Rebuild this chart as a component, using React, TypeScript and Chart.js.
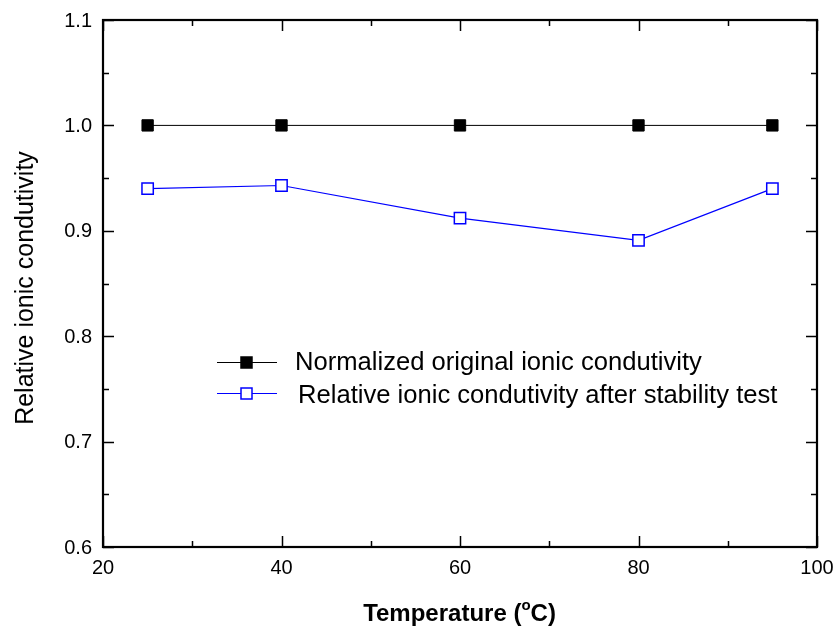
import React, { useEffect, useRef } from "react";
import { Chart, registerables } from "chart.js";

Chart.register(...registerables);

const temperatures = [25, 40, 60, 80, 95];
const originalValues = [1.0, 1.0, 1.0, 1.0, 1.0];
const afterTestValues = [0.940, 0.943, 0.912, 0.891, 0.940];
const xTicks = [20, 40, 60, 80, 100];
const xMinorTicks = [30, 50, 70, 90];
const yTicks = [0.6, 0.7, 0.8, 0.9, 1.0, 1.1];
const yMinorTicks = [0.65, 0.75, 0.85, 0.95, 1.05];
const seriesLabels = [
  "Normalized original ionic condutivity",
  "Relative ionic condutivity after stability test",
];

const FONT = "'Liberation Sans', Arial, sans-serif";

const framePlugin = {
  id: "framePlugin",
  afterDatasetsDraw(chart: any) {
    const { ctx, chartArea } = chart;
    const xs = chart.scales.x;
    const ys = chart.scales.y;
    const { left, right, top, bottom } = chartArea;
    ctx.save();
    ctx.strokeStyle = "#000";
    ctx.lineWidth = 2.2;
    ctx.strokeRect(left, top, right - left, bottom - top);
    ctx.lineWidth = 1.5;
    const major = 11;
    const minor = 6;
    ctx.beginPath();
    const xTick = (v: number, len: number) => {
      const px = Math.round(xs.getPixelForValue(v)) + 0.5;
      ctx.moveTo(px, bottom);
      ctx.lineTo(px, bottom - len);
      ctx.moveTo(px, top);
      ctx.lineTo(px, top + len);
    };
    const yTick = (v: number, len: number) => {
      const py = Math.round(ys.getPixelForValue(v)) + 0.5;
      ctx.moveTo(left, py);
      ctx.lineTo(left + len, py);
      ctx.moveTo(right, py);
      ctx.lineTo(right - len, py);
    };
    xTicks.forEach((v) => xTick(v, major));
    xMinorTicks.forEach((v) => xTick(v, minor));
    yTicks.forEach((v) => yTick(v, major));
    yMinorTicks.forEach((v) => yTick(v, minor));
    ctx.stroke();

    // tick labels
    ctx.fillStyle = "#000";
    ctx.font = `20px ${FONT}`;
    ctx.textAlign = "center";
    ctx.textBaseline = "middle";
    xTicks.forEach((v) => {
      ctx.fillText(String(v), xs.getPixelForValue(v), bottom + 21);
    });
    ctx.textAlign = "right";
    ctx.textBaseline = "middle";
    yTicks.forEach((v) => {
      ctx.fillText(v.toFixed(1), left - 11, ys.getPixelForValue(v) + 1);
    });

    // y axis title
    ctx.save();
    ctx.translate(33, 288);
    ctx.rotate(-Math.PI / 2);
    ctx.textAlign = "center";
    ctx.textBaseline = "alphabetic";
    ctx.font = `25px ${FONT}`;
    ctx.fillText("Relative ionic condutivity", 0, 0);
    ctx.restore();

    // x axis title with superscript
    ctx.textAlign = "left";
    ctx.textBaseline = "alphabetic";
    const p1 = "Temperature (";
    const p2 = "o";
    const p3 = "C)";
    ctx.font = `bold 24px ${FONT}`;
    const w1 = ctx.measureText(p1).width;
    const w3 = ctx.measureText(p3).width;
    ctx.font = `bold 15px ${FONT}`;
    const w2 = ctx.measureText(p2).width;
    const total = w1 + w2 + w3;
    const cx = 459.5;
    const x0 = cx - total / 2;
    const base = 621;
    ctx.font = `bold 24px ${FONT}`;
    ctx.fillText(p1, x0, base);
    ctx.font = `bold 15px ${FONT}`;
    ctx.fillText(p2, x0 + w1, base - 11);
    ctx.font = `bold 24px ${FONT}`;
    ctx.fillText(p3, x0 + w1 + w2, base);

    // legend
    const legendItems = [
      { y: 362, textY: 363, textX: 295, stroke: "#000", fill: "#000" },
      { y: 393, textY: 396, textX: 298, stroke: "#0000ff", fill: "#fff" },
    ];
    legendItems.forEach((it, i) => {
      ctx.strokeStyle = it.stroke;
      ctx.lineWidth = 1;
      ctx.beginPath();
      ctx.moveTo(217, it.y + 0.5);
      ctx.lineTo(277, it.y + 0.5);
      ctx.stroke();
      ctx.fillStyle = it.fill;
      ctx.fillRect(241, it.y - 5, 11, 11);
      ctx.lineWidth = 1.5;
      ctx.strokeRect(241, it.y - 5, 11, 11);
      ctx.fillStyle = "#000";
      ctx.font = `25.6px ${FONT}`;
      ctx.textAlign = "left";
      ctx.textBaseline = "middle";
      ctx.fillText(chart.data.datasets[i].label, it.textX, it.textY);
    });
    ctx.restore();
  },
};

export default function App() {
  const canvasRef = useRef<HTMLCanvasElement>(null);

  useEffect(() => {
    if (!canvasRef.current) return;
    const chart = new Chart(canvasRef.current, {
      type: "line",
      data: {
        datasets: [
          {
            label: seriesLabels[0],
            data: temperatures.map((t, i) => ({ x: t, y: originalValues[i] })),
            borderColor: "#000",
            borderWidth: 1,
            pointStyle: "rect",
            pointRadius: 8,
            pointBackgroundColor: "#000",
            pointBorderColor: "#000",
            pointBorderWidth: 1,
            tension: 0,
          },
          {
            label: seriesLabels[1],
            data: temperatures.map((t, i) => ({ x: t, y: afterTestValues[i] })),
            borderColor: "#0000ff",
            borderWidth: 1.2,
            pointStyle: "rect",
            pointRadius: 8,
            pointBackgroundColor: "#fff",
            pointBorderColor: "#0000ff",
            pointBorderWidth: 1.5,
            tension: 0,
          },
        ],
      },
      options: {
        animation: false,
        responsive: false,
        maintainAspectRatio: false,
        layout: { padding: { left: 103, right: 21, top: 20, bottom: 84 } },
        plugins: {
          legend: { display: false },
          tooltip: { enabled: false },
        },
        scales: {
          x: { type: "linear", min: 20, max: 100, display: false },
          y: { type: "linear", min: 0.6, max: 1.1, display: false },
        },
      },
      plugins: [framePlugin],
    });
    return () => chart.destroy();
  }, []);

  return (
    <div style={{ position: "fixed", left: 0, top: 0, width: 838, height: 631, background: "#fff" }}>
      <canvas ref={canvasRef} width={838} height={631} />
    </div>
  );
}
